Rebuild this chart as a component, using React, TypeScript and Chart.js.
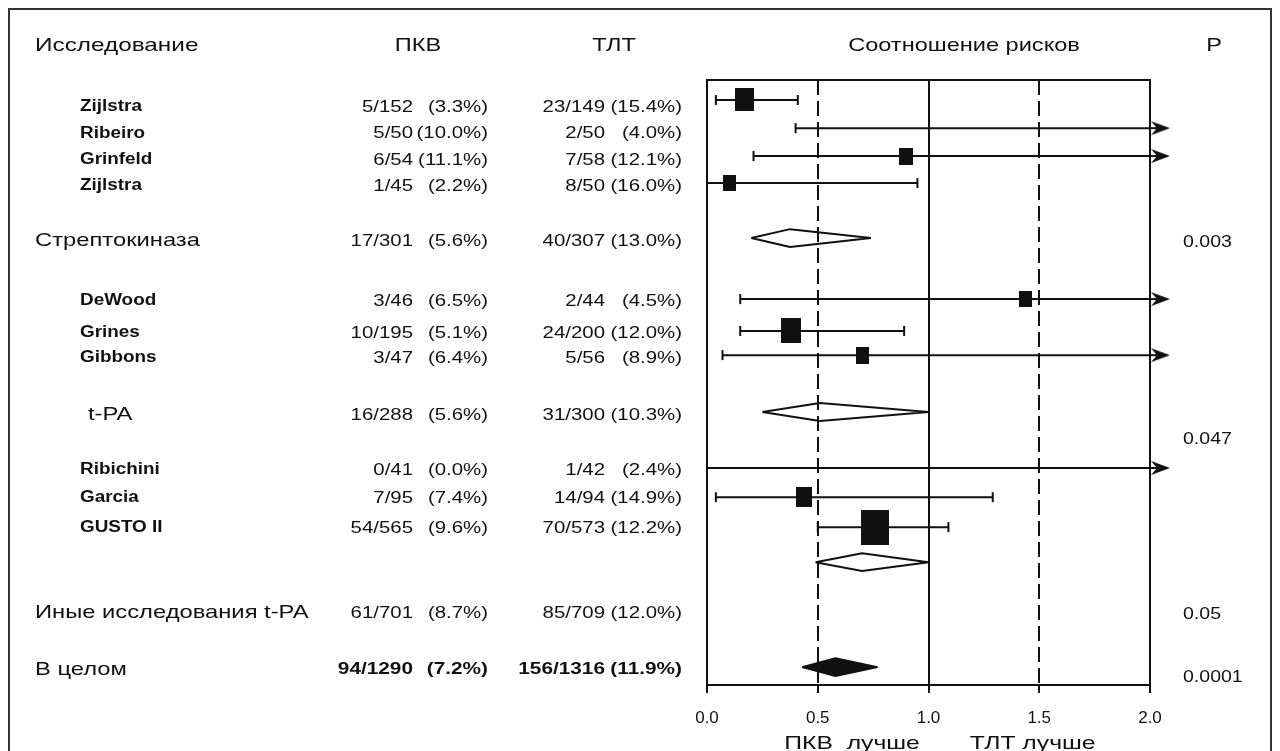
import React, { useEffect, useRef } from "react";
import { Chart, registerables } from "chart.js";

Chart.register(...registerables);

// ---------- data ----------
const studyNames = [
  "Zijlstra", "Ribeiro", "Grinfeld", "Zijlstra", "Стрептокиназа",
  "DeWood", "Grines", "Gibbons", "t-PA",
  "Ribichini", "Garcia", "GUSTO II", "Иные исследования t-PA", "В целом",
];
// 0 = single trial, 1 = subgroup summary (open diamond), 2 = overall (filled diamond)
const rowKind = [0, 0, 0, 0, 1, 0, 0, 0, 1, 0, 0, 0, 1, 2];
const pkvEvents = [5, 5, 6, 1, 17, 3, 10, 3, 16, 0, 7, 54, 61, 94];
const pkvTotal = [152, 50, 54, 45, 301, 46, 195, 47, 288, 41, 95, 565, 701, 1290];
const pkvPct = ["3.3", "10.0", "11.1", "2.2", "5.6", "6.5", "5.1", "6.4", "5.6", "0.0", "7.4", "9.6", "8.7", "7.2"];
const tltEvents = [23, 2, 7, 8, 40, 2, 24, 5, 31, 1, 14, 70, 85, 156];
const tltTotal = [149, 50, 58, 50, 307, 44, 200, 56, 300, 42, 94, 573, 709, 1316];
const tltPct = ["15.4", "4.0", "12.1", "16.0", "13.0", "4.5", "12.0", "8.9", "10.3", "2.4", "14.9", "12.2", "12.0", "11.9"];
// risk ratio and 95% CI (values beyond 2.0 are estimates)
const riskRatio = [0.17, 2.5, 0.9, 0.1, 0.375, 1.44, 0.38, 0.7, 0.51, null, 0.44, 0.76, 0.7, 0.58];
const ciLow = [0.04, 0.4, 0.21, 0.0, 0.2, 0.15, 0.15, 0.07, 0.25, 0.0, 0.04, 0.5, 0.49, 0.43];
const ciHigh = [0.41, 12.4, 3.4, 0.95, 0.74, 13.0, 0.89, 4.2, 1.0, 20.0, 1.29, 1.09, 1.0, 0.77];
const pValues = ["0.003", "0.047", "0.05", "0.0001"];
const xTicks = [0, 0.5, 1.0, 1.5, 2.0];
const headers = ["Исследование", "ПКВ", "ТЛТ", "Соотношение рисков", "P"];
const betterLabels = ["ПКВ  лучше", "ТЛТ лучше"];

// ---------- layout (row slots on the vertical axis, not data) ----------
const TEXT_POS = [1.03, 2.02, 3.04, 4.03, 6.12, 8.4, 9.62, 10.57, 12.73, 14.82, 15.89, 17.03, 20.26, 22.43];
const MARK_POS = [0.76, 1.83, 2.89, 3.92, 6.01, 8.33, 9.54, 10.46, 12.62, 14.75, 15.86, 17.0, 18.33, 22.32];
const P_POS = [6.19, 13.68, 20.34, 22.73];
const BETTER_AT = [0.655, 1.47];
const Y_MAX = 23;
const X_MAX = 2;
const DIAMOND_HALF = 0.34;

const FONT = '"Liberation Sans", Arial, Helvetica, sans-serif';
const INK = "#111";

function rectCanvas(w: number, h: number) {
  const c = document.createElement("canvas");
  c.width = Math.round(w);
  c.height = Math.round(h);
  const g = c.getContext("2d")!;
  g.fillStyle = INK;
  g.fillRect(0, 0, c.width, c.height);
  return c;
}

function arrowCanvas() {
  const c = document.createElement("canvas");
  c.width = 40;
  c.height = 16;
  const g = c.getContext("2d")!;
  g.strokeStyle = INK;
  g.fillStyle = INK;
  g.lineWidth = 2;
  g.beginPath();
  g.moveTo(20, 8);
  g.lineTo(36, 8);
  g.stroke();
  g.beginPath();
  g.moveTo(40, 8);
  g.lineTo(21, 1);
  g.lineTo(27, 8);
  g.lineTo(21, 15);
  g.closePath();
  g.fill();
  return c;
}

// the reference lettering is horizontally stretched, so text is drawn with a horizontal scale
function txt(ctx: CanvasRenderingContext2D, s: string, x: number, y: number, align: CanvasTextAlign, font: string, sx: number) {
  ctx.save();
  ctx.font = font;
  ctx.textAlign = align;
  ctx.translate(x, y);
  ctx.scale(sx, 1);
  ctx.fillText(s, 0, 0);
  ctx.restore();
}

const textPlugin = {
  id: "forestText",
  afterDraw(chart: any) {
    const { ctx } = chart;
    const ys = chart.scales.y;
    const xs = chart.scales.x;
    ctx.save();
    // outer frame
    ctx.strokeStyle = "#333";
    ctx.lineWidth = 2;
    ctx.strokeRect(9, 9, 1262, 800);

    ctx.fillStyle = INK;
    ctx.textBaseline = "middle";

    // headers
    const hf = `19px ${FONT}`;
    txt(ctx, headers[0], 35, 46, "left", hf, 1.28);
    txt(ctx, headers[1], 418, 46, "center", hf, 1.24);
    txt(ctx, headers[2], 614, 46, "center", hf, 1.24);
    txt(ctx, headers[3], 964, 46, "center", hf, 1.24);
    txt(ctx, headers[4], 1214, 46, "center", hf, 1.24);

    // rows
    studyNames.forEach((name, i) => {
      const y = ys.getPixelForValue(TEXT_POS[i]);
      if (rowKind[i] === 0) {
        txt(ctx, name, 80, y, "left", `bold 16px ${FONT}`, 1.18);
      } else {
        txt(ctx, name, name === "t-PA" ? 88 : 35, y, "left", `19px ${FONT}`, 1.25);
      }
      const nf = rowKind[i] === 2 ? `bold 16px ${FONT}` : `17px ${FONT}`;
      const nsx = rowKind[i] === 2 ? 1.3 : 1.2;
      txt(ctx, `${pkvEvents[i]}/${pkvTotal[i]}`, 413, y, "right", nf, nsx);
      txt(ctx, `(${pkvPct[i]}%)`, 488, y, "right", nf, nsx);
      txt(ctx, `${tltEvents[i]}/${tltTotal[i]}`, 605, y, "right", nf, nsx);
      txt(ctx, `(${tltPct[i]}%)`, 682, y, "right", nf, nsx);
    });

    // p values
    pValues.forEach((p, i) => txt(ctx, p, 1183, ys.getPixelForValue(P_POS[i]), "left", `16px ${FONT}`, 1.22));

    // "better" labels under the axis
    betterLabels.forEach((t, i) =>
      txt(ctx, t, xs.getPixelForValue(BETTER_AT[i]), 744, "center", `19px ${FONT}`, 1.3)
    );
    ctx.restore();
  },
};

export default function App() {
  const ref = useRef<HTMLCanvasElement>(null);
  useEffect(() => {
    document.body.style.margin = "0";
    const arrow = arrowCanvas();
    const datasets: any[] = [];

    // confidence interval lines with caps / arrows
    studyNames.forEach((_, i) => {
      if (rowKind[i] !== 0) return;
      const y = MARK_POS[i];
      const over = ciHigh[i] > X_MAX;
      datasets.push({
        data: [
          { x: ciLow[i], y },
          { x: over ? X_MAX : ciHigh[i], y },
        ],
        borderColor: INK,
        borderWidth: 2,
        pointStyle: ["line", over ? arrow : "line"],
        pointRotation: [90, over ? 0 : 90],
        pointRadius: 5,
        pointBorderColor: INK,
        pointBorderWidth: 2,
        fill: false,
        clip: false,
        order: 2,
      });
    });

    // point estimates, size by sample size
    const sq: any[] = [];
    const sqStyle: any[] = [];
    studyNames.forEach((_, i) => {
      if (rowKind[i] !== 0 || riskRatio[i] === null) return;
      const n = pkvTotal[i] + tltTotal[i];
      const w = 3.17 * Math.pow(n, 0.31);
      sq.push({ x: riskRatio[i], y: MARK_POS[i] });
      sqStyle.push(rectCanvas(w, w * 1.25));
    });
    datasets.push({
      data: sq,
      showLine: false,
      pointStyle: sqStyle,
      pointRadius: 6,
      order: 0,
    });

    // summary diamonds
    studyNames.forEach((_, i) => {
      if (rowKind[i] === 0) return;
      const y = MARK_POS[i];
      const est = riskRatio[i] as number;
      datasets.push({
        data: [
          { x: ciLow[i], y },
          { x: est, y: y - DIAMOND_HALF },
          { x: ciHigh[i], y },
          { x: est, y: y + DIAMOND_HALF },
          { x: ciLow[i], y },
        ],
        borderColor: INK,
        borderWidth: 2,
        borderJoinStyle: "bevel",
        backgroundColor: rowKind[i] === 2 ? INK : "rgba(0,0,0,0)",
        fill: rowKind[i] === 2 ? "shape" : false,
        pointRadius: 0,
        tension: 0,
        order: 1,
      });
    });

    const chart = new Chart(ref.current!, {
      type: "line",
      data: { datasets },
      plugins: [textPlugin],
      options: {
        animation: false,
        responsive: true,
        maintainAspectRatio: false,
        layout: { padding: { left: 707, right: 130, top: 80, bottom: 0 } },
        plugins: { legend: { display: false }, tooltip: { enabled: false } },
        scales: {
          x: {
            type: "linear",
            min: 0,
            max: X_MAX,
            afterBuildTicks: (s: any) => {
              s.ticks = xTicks.map((v) => ({ value: v }));
            },
            afterFit: (s: any) => {
              s.height = 66;
            },
            ticks: {
              color: INK,
              font: { family: FONT, size: 17 },
              padding: 15,
              callback: (v: any) => Number(v).toFixed(1),
            },
            grid: {
              color: INK,
              lineWidth: 2,
              tickLength: 8,
              tickColor: INK,
              tickWidth: 2,
            },
            border: {
              display: true,
              color: INK,
              width: 2,
              dash: (c: any) =>
                c.tick && (c.tick.value === 0.5 || c.tick.value === 1.5) ? [15, 6] : [],
            },
          },
          x2: {
            type: "linear",
            position: "top",
            min: 0,
            max: X_MAX,
            ticks: { display: false },
            grid: { display: false, drawTicks: false },
            border: { display: true, color: INK, width: 2 },
            afterFit: (s: any) => {
              s.height = 0;
            },
          },
          y: {
            type: "linear",
            display: false,
            reverse: true,
            min: 0,
            max: Y_MAX,
          },
        },
      },
    });
    return () => chart.destroy();
  }, []);

  return (
    <div style={{ position: "fixed", left: 0, top: 0, width: 1280, height: 751, background: "#fff" }}>
      <canvas ref={ref} />
    </div>
  );
}
